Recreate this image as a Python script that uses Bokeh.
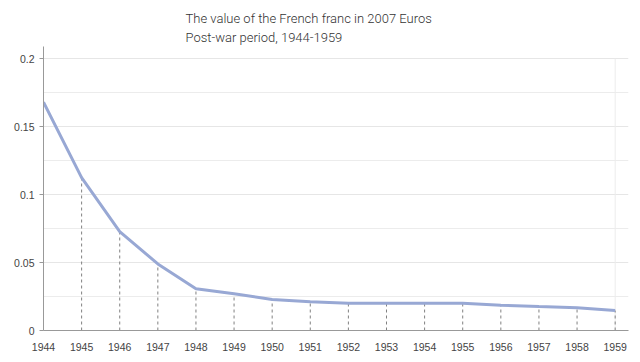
from bokeh.plotting import figure
from bokeh.models import Title, FixedTicker, Range1d, ColumnDataSource
from bokeh.embed import file_html
from bokeh.resources import INLINE

years = [1944, 1945, 1946, 1947, 1948, 1949, 1950, 1951, 1952, 1953, 1954, 1955, 1956, 1957, 1958, 1959]
values = [0.168, 0.1125, 0.0728, 0.049, 0.0307, 0.027, 0.0228, 0.0211, 0.0201, 0.02, 0.02, 0.02, 0.0186, 0.0176, 0.0167, 0.0147]
y_ticks = [0, 0.05, 0.1, 0.15, 0.2]
y_tick_labels = {0: "0", 0.05: "0.05", 0.1: "0.1", 0.15: "0.15", 0.2: "0.2"}
title_lines = ["The value of the French franc in 2007 Euros", "Post-war period, 1944-1959"]

p = figure(width=632, height=354, output_backend="svg", toolbar_location=None,
           x_range=Range1d(1944, 1959.35), y_range=Range1d(0, 0.209),
           min_border_left=43, min_border_right=4, min_border_top=46, min_border_bottom=24)
p.outline_line_color = None
p.title = None

p.add_layout(Title(text=title_lines[1], align="left", offset=142, text_font="Roboto Light, Roboto",
                   text_font_size="13px", text_font_style="normal",
                   text_color="#333333", standoff=3), "above")
p.add_layout(Title(text=title_lines[0], align="left", offset=142, text_font="Roboto Light, Roboto",
                   text_font_size="13px", text_font_style="normal",
                   text_color="#333333", standoff=1), "above")

# grid
p.xgrid.grid_line_color = None
p.ygrid.grid_line_color = "#e6e6e6"
p.ygrid.minor_grid_line_color = "#ececec"
p.yaxis.ticker = FixedTicker(ticks=y_ticks, minor_ticks=[0.025, 0.075, 0.125, 0.175])
p.yaxis.major_label_overrides = y_tick_labels
p.yaxis.minor_tick_line_color = None
p.yaxis.major_tick_out = 4
p.yaxis.major_tick_in = 0
p.yaxis.axis_line_color = "#999999"
p.yaxis.major_tick_line_color = "#999999"
p.yaxis.major_label_text_font = "Liberation Sans"
p.yaxis.major_label_text_font_size = "10.5px"
p.yaxis.major_label_text_color = "#444444"

p.xaxis.ticker = FixedTicker(ticks=years)
p.xaxis.minor_tick_line_color = None
p.xaxis.major_tick_line_color = None
p.xaxis.axis_line_color = "#999999"
p.xaxis.major_label_text_font = "Liberation Sans"
p.xaxis.major_label_text_font_size = "10.5px"
p.xaxis.major_label_text_color = "#444444"
p.xaxis.major_label_standoff = 6

# right border of grid
p.segment(x0=[years[-1]], y0=[0], x1=[years[-1]], y1=[y_ticks[-1]], line_color="#ececec", line_width=1)

src = ColumnDataSource(dict(x=years, y=values, y0=[0] * len(years)))
p.segment(x0="x", y0="y0", x1="x", y1="y", source=src, line_color="#808080",
          line_width=1, line_dash="3 3")
p.line("x", "y", source=src, line_color="#98a8d4", line_width=3)

open("out.html", "w").write(file_html(p, INLINE))
